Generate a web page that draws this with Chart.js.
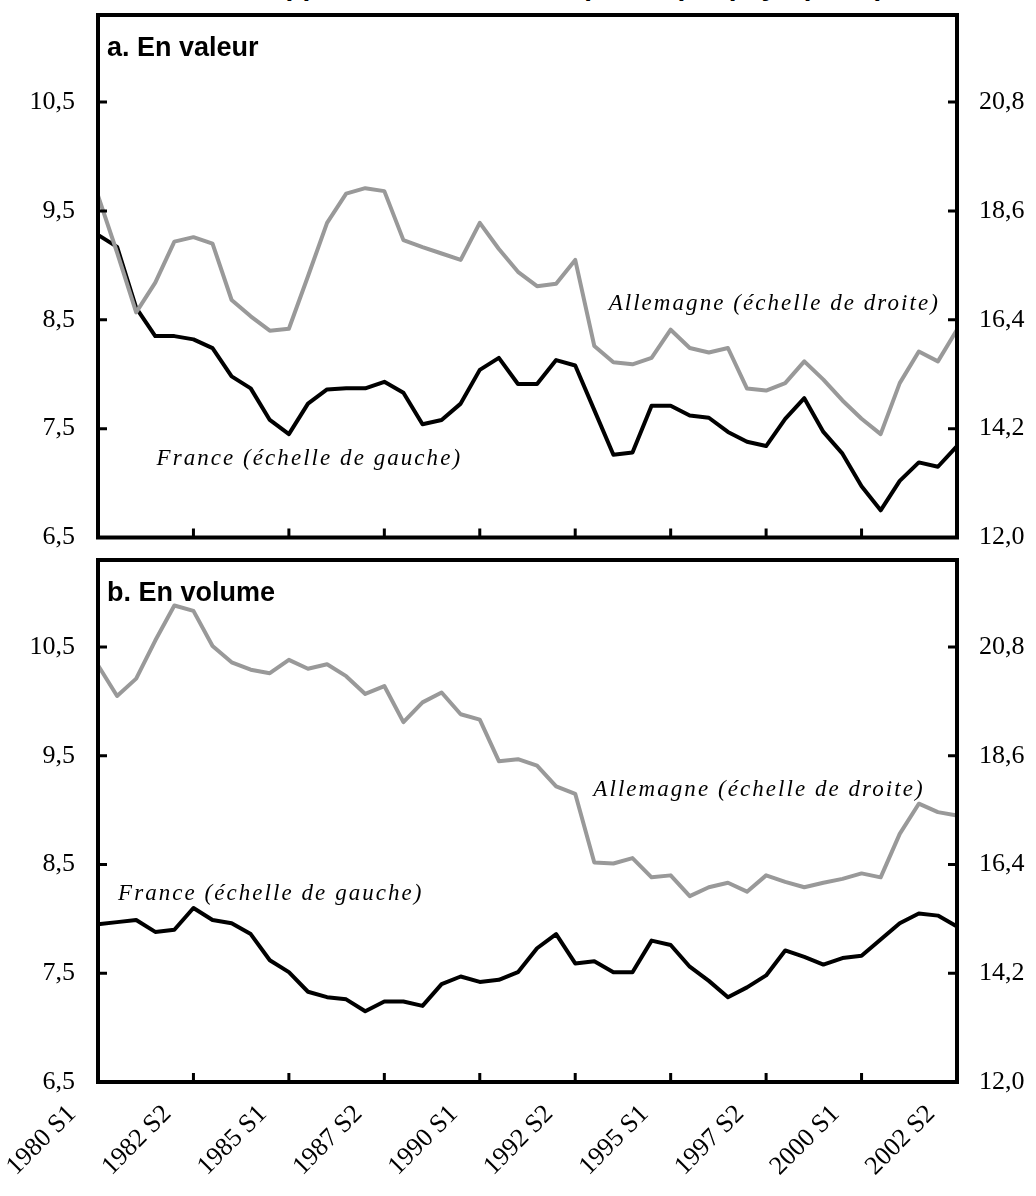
<!DOCTYPE html>
<html>
<head>
<meta charset="utf-8">
<script src="https://cdn.jsdelivr.net/npm/chart.js@4.4.0/dist/chart.umd.min.js"></script>
<style>
  body { margin: 0; background: #fff; width: 1036px; height: 1196px; position: relative; overflow: hidden; }
  #title { position: absolute; left: 0; width: 1036px; top: -30px; text-align: center;
           font: bold 28px "Liberation Sans", Arial, sans-serif; line-height: 32px; }
  .panel { position: absolute; left: 0; width: 1036px; }
  #p1 { top: 0; height: 560px; }
  #p2 { top: 545px; height: 651px; }
</style>
</head>
<body>
<div id="title">Part des approvisionnements importés par pays (en %)</div>
<div class="panel" id="p1"><canvas id="chartValeur"></canvas></div>
<div class="panel" id="p2"><canvas id="chartVolume"></canvas></div>
<script>
// semesters, 1980 S1 -> 2002 S2
var categories = [
  "1980 S1","1980 S2","1981 S1","1981 S2","1982 S1","1982 S2","1983 S1","1983 S2",
  "1984 S1","1984 S2","1985 S1","1985 S2","1986 S1","1986 S2","1987 S1","1987 S2",
  "1988 S1","1988 S2","1989 S1","1989 S2","1990 S1","1990 S2","1991 S1","1991 S2",
  "1992 S1","1992 S2","1993 S1","1993 S2","1994 S1","1994 S2","1995 S1","1995 S2",
  "1996 S1","1996 S2","1997 S1","1997 S2","1998 S1","1998 S2","1999 S1","1999 S2",
  "2000 S1","2000 S2","2001 S1","2001 S2","2002 S1","2002 S2"];
var tickLabels = ["1980 S1","1982 S2","1985 S1","1987 S2","1990 S1","1992 S2","1995 S1","1997 S2","2000 S1","2002 S2"];
var leftTicks = [6.5, 7.5, 8.5, 9.5, 10.5];
var rightTicks = [12.0, 14.2, 16.4, 18.6, 20.8];

// a. En valeur
var franceValeur = [9.28, 9.17, 8.61, 8.35, 8.35, 8.32, 8.24, 7.98, 7.87, 7.58,
  7.45, 7.73, 7.86, 7.87, 7.87, 7.93, 7.83, 7.54, 7.58, 7.73,
  8.04, 8.15, 7.91, 7.91, 8.13, 8.08, 7.67, 7.26, 7.28, 7.71,
  7.71, 7.62, 7.60, 7.47, 7.38, 7.34, 7.59, 7.78, 7.47, 7.27,
  6.97, 6.75, 7.02, 7.19, 7.15, 7.34];
var allemagneValeur = [18.91, 17.76, 16.55, 17.15, 17.98, 18.07, 17.94, 16.80, 16.47, 16.18,
  16.22, 17.28, 18.36, 18.95, 19.06, 19.00, 18.01, 17.87, 17.74, 17.61,
  18.36, 17.83, 17.37, 17.08, 17.13, 17.61, 15.87, 15.54, 15.50, 15.63,
  16.20, 15.83, 15.74, 15.83, 15.01, 14.97, 15.12, 15.56, 15.19, 14.77,
  14.40, 14.09, 15.12, 15.76, 15.56, 16.20];

// b. En volume
var franceVolume = [7.95, 7.97, 7.99, 7.88, 7.90, 8.10, 7.99, 7.96, 7.86, 7.62,
  7.51, 7.33, 7.28, 7.26, 7.15, 7.24, 7.24, 7.20, 7.40, 7.47,
  7.42, 7.44, 7.51, 7.73, 7.86, 7.59, 7.61, 7.51, 7.51, 7.80,
  7.76, 7.56, 7.43, 7.28, 7.37, 7.48, 7.71, 7.65, 7.58, 7.64,
  7.66, 7.81, 7.96, 8.05, 8.03, 7.93];
var allemagneVolume = [20.43, 19.81, 20.16, 20.93, 21.64, 21.53, 20.82, 20.49, 20.34, 20.27,
  20.54, 20.36, 20.45, 20.21, 19.85, 20.01, 19.28, 19.68, 19.88, 19.44,
  19.33, 18.49, 18.53, 18.40, 17.98, 17.83, 16.44, 16.42, 16.53, 16.14,
  16.18, 15.76, 15.94, 16.03, 15.85, 16.18, 16.05, 15.94, 16.03, 16.11,
  16.22, 16.14, 17.02, 17.63, 17.46, 17.39];

var serif = '"Liberation Serif", "Times New Roman", serif';

function fmt(v) { return v.toFixed(1).replace('.', ','); }

// frame, inward ticks, panel title and series notes
var framePlugin = {
  id: 'frame',
  afterDatasetsDraw: function(chart, args, opts) {
    var a = chart.chartArea, c = chart.ctx;
    var x = chart.scales.x, y = chart.scales.y, y2 = chart.scales.y2;
    c.save();
    c.strokeStyle = '#000';
    c.lineWidth = 3;
    c.beginPath();
    leftTicks.forEach(function(v) {
      var py = y.getPixelForValue(v);
      c.moveTo(a.left, py); c.lineTo(a.left + 9, py);
    });
    rightTicks.forEach(function(v) {
      var py = y2.getPixelForValue(v);
      c.moveTo(a.right, py); c.lineTo(a.right - 9, py);
    });
    tickLabels.forEach(function(lab) {
      var px = x.getPixelForValue(categories.indexOf(lab));
      c.moveTo(px, a.bottom); c.lineTo(px, a.bottom - 9);
    });
    c.stroke();
    c.lineWidth = 4;
    c.strokeRect(a.left, a.top, a.right - a.left, a.bottom - a.top);

    c.fillStyle = '#000';
    c.font = 'bold 27px "Liberation Sans Narrow", "Liberation Sans", Arial, sans-serif';
    c.textBaseline = 'alphabetic';
    c.textAlign = 'left';
    c.fillText(opts.title, a.left + 9, a.top + 41);

    c.font = 'italic 23px ' + serif;
    c.textBaseline = 'middle';
    try { c.letterSpacing = '2.05px'; } catch (e) {}
    opts.notes.forEach(function(n) {
      c.fillText(n.text, x.getPixelForValue(n.idx), y.getPixelForValue(n.value));
    });
    c.restore();
  }
};

function noPad(s) { s.paddingTop = 0; s.paddingBottom = 0; s.paddingLeft = 0; s.paddingRight = 0; }

function makeChart(id, france, allemagne, title, notes, showLabels) {
  return new Chart(document.getElementById(id), {
    type: 'line',
    data: {
      labels: categories,
      datasets: [
        { label: 'Allemagne (échelle de droite)', data: allemagne, yAxisID: 'y2',
          borderColor: '#999999', borderWidth: 4, pointRadius: 0, tension: 0, borderJoinStyle: 'round' },
        { label: 'France (échelle de gauche)', data: france, yAxisID: 'y',
          borderColor: '#000000', borderWidth: 4, pointRadius: 0, tension: 0, borderJoinStyle: 'round' }
      ]
    },
    options: {
      responsive: true,
      maintainAspectRatio: false,
      animation: false,
      layout: { padding: { top: 15, bottom: showLabels ? 0 : 22.5, left: 0, right: 0 } },
      plugins: {
        legend: { display: false },
        tooltip: { enabled: false },
        frame: { title: title, notes: notes }
      },
      scales: {
        x: {
          display: showLabels,
          offset: false,
          grid: { display: false },
          border: { display: false },
          afterFit: function(s) { s.height = showLabels ? 114 : 0; noPad(s); },
          ticks: {
            autoSkip: false, minRotation: 45, maxRotation: 45, padding: 9, labelOffset: -26,
            color: '#000', font: { family: serif, size: 26 },
            callback: function(v, i) { return tickLabels.indexOf(categories[i]) >= 0 ? categories[i] : ''; }
          }
        },
        y: {
          position: 'left', min: 6.5, max: 11.3,
          grid: { display: false }, border: { display: false },
          afterFit: function(s) { s.width = 98; noPad(s); },
          afterBuildTicks: function(s) { s.ticks = leftTicks.map(function(v) { return { value: v }; }); },
          ticks: { color: '#000', padding: 15, font: { family: serif, size: 26 },
                   callback: function(v) { return fmt(v); } }
        },
        y2: {
          position: 'right', min: 12, max: 22.56,
          grid: { display: false }, border: { display: false },
          afterFit: function(s) { s.width = 79; noPad(s); },
          afterBuildTicks: function(s) { s.ticks = rightTicks.map(function(v) { return { value: v }; }); },
          ticks: { color: '#000', padding: 14, font: { family: serif, size: 26 },
                   callback: function(v) { return fmt(v); } }
        }
      }
    },
    plugins: [framePlugin]
  });
}

makeChart('chartValeur', franceValeur, allemagneValeur, 'a. En valeur', [
  { text: 'France (échelle de gauche)', idx: 3.07, value: 7.22 },
  { text: 'Allemagne (échelle de droite)', idx: 26.75, value: 8.65 }
], false);

makeChart('chartVolume', franceVolume, allemagneVolume, 'b. En volume', [
  { text: 'France (échelle de gauche)', idx: 1.05, value: 8.23 },
  { text: 'Allemagne (échelle de droite)', idx: 25.95, value: 9.19 }
], true);
</script>
</body>
</html>
